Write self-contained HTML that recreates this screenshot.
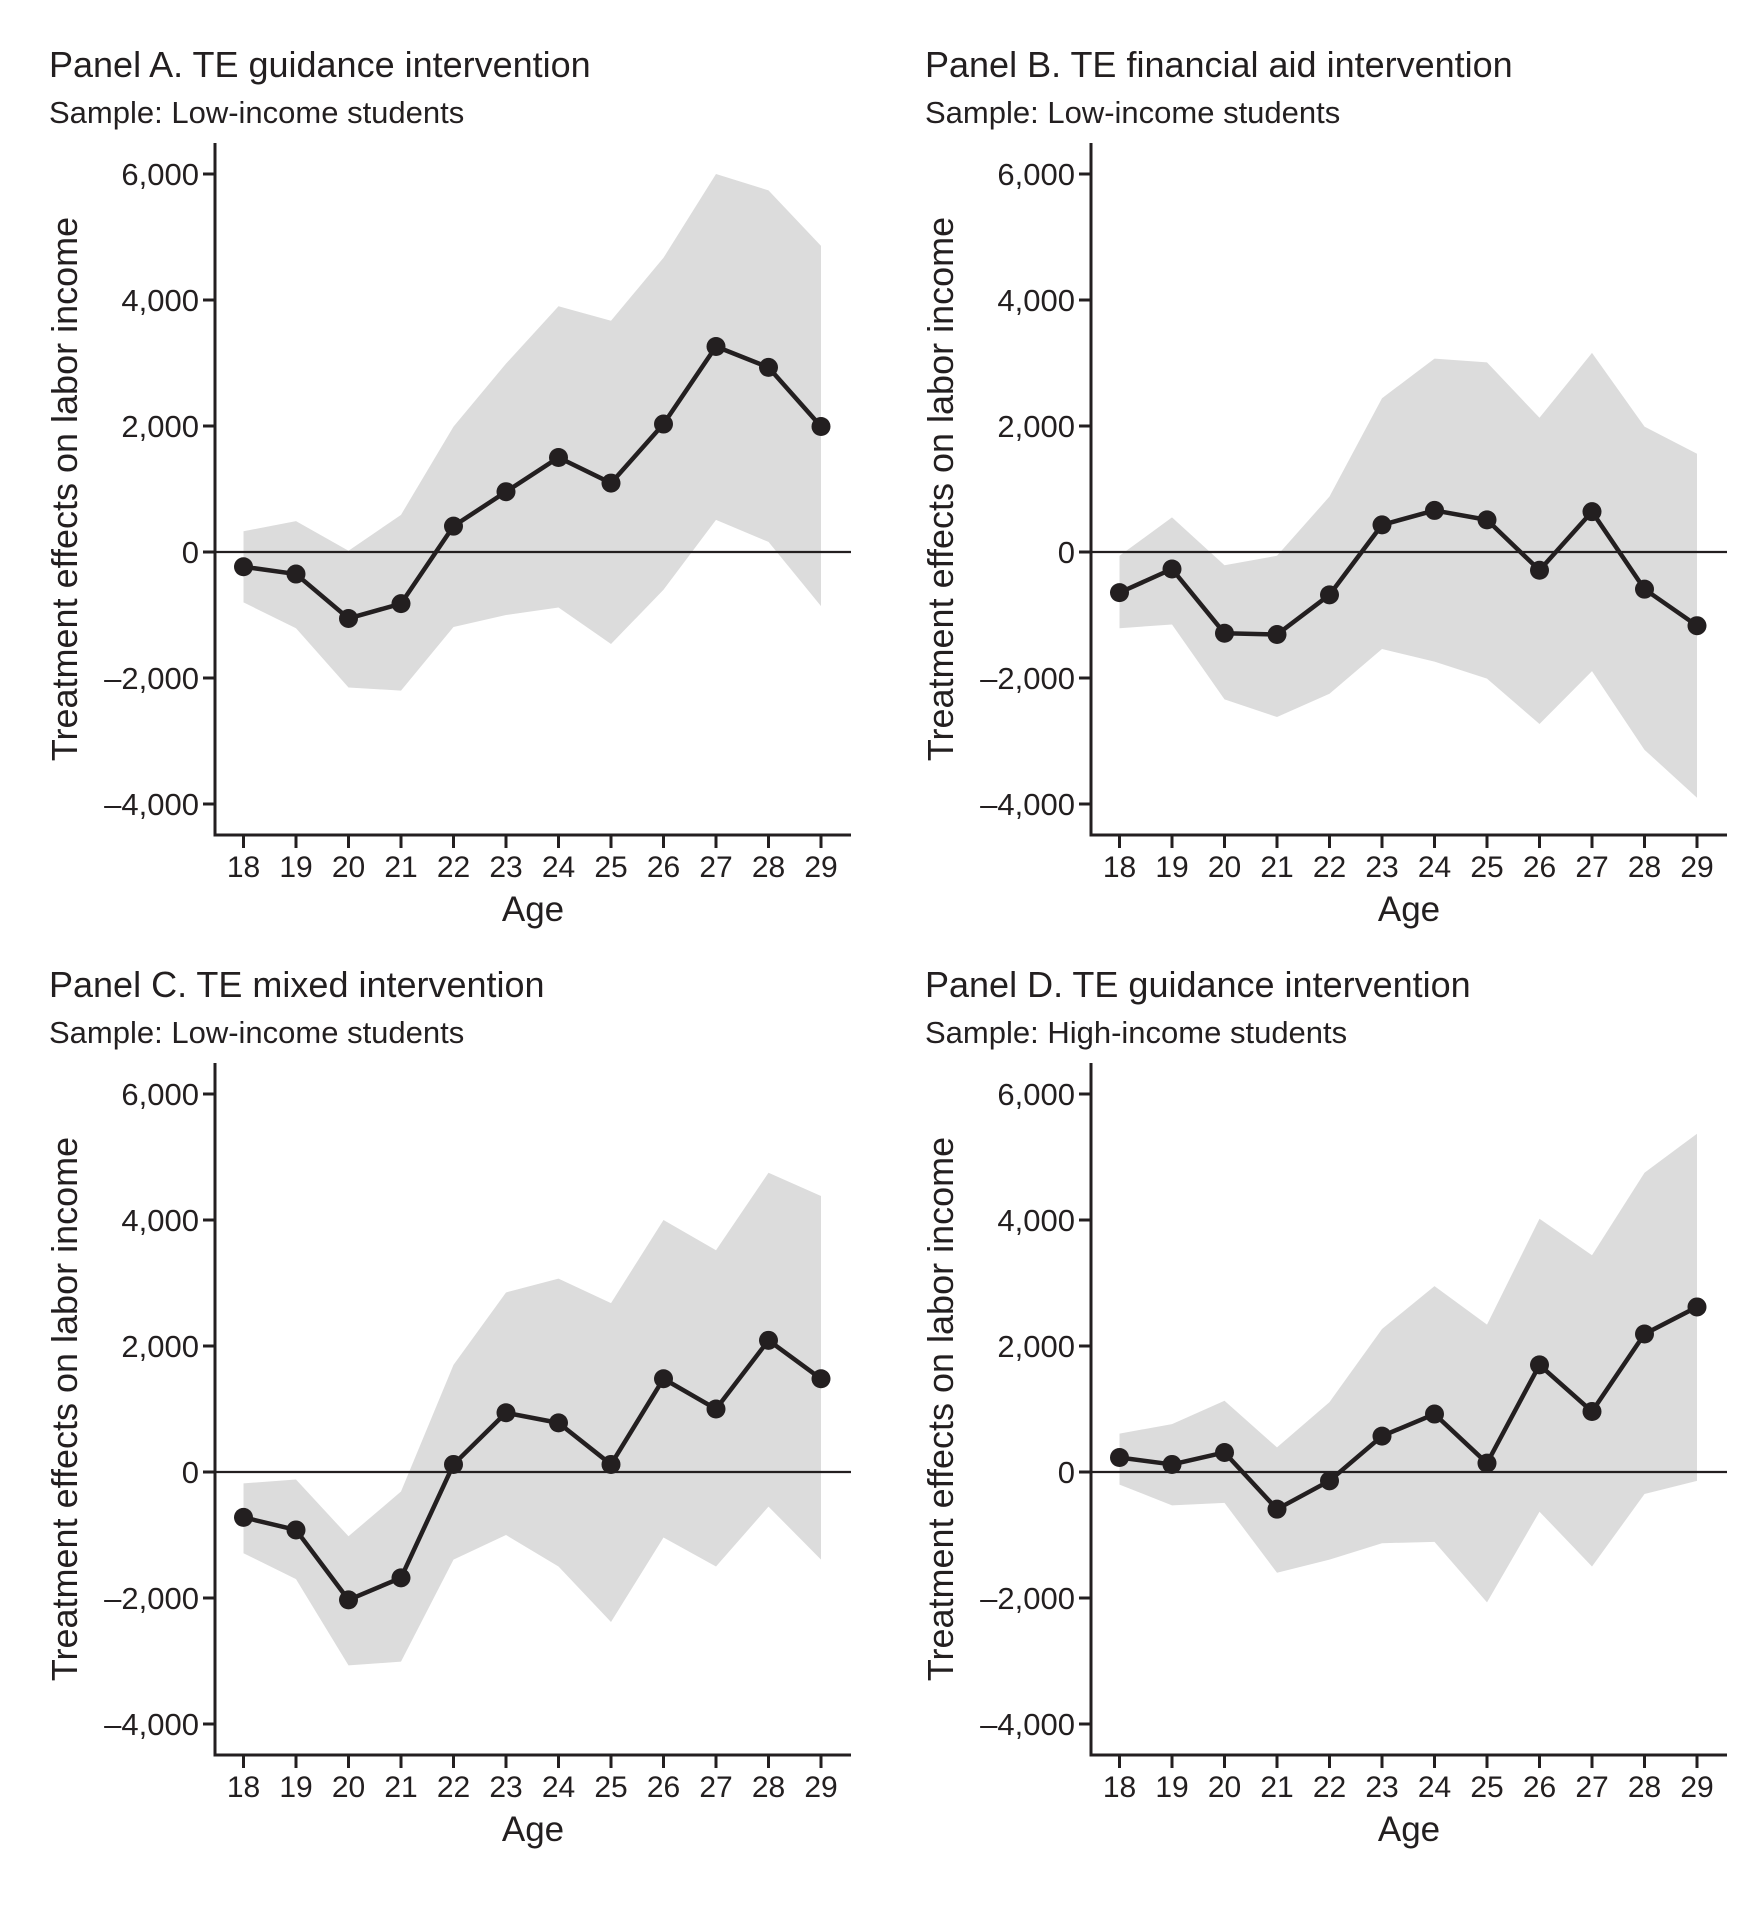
<!DOCTYPE html>
<html><head><meta charset="utf-8"><style>
body{margin:0;background:#fff}
svg{display:block}
text{font-family:"Liberation Sans",Arial,sans-serif;fill:#231f20}
</style></head><body>
<svg id="s" width="1754" height="1918" xmlns="http://www.w3.org/2000/svg"></svg>
<script>
const P=[
{t:"Panel A. TE guidance intervention",s:"Sample: Low-income students",ox:0,oy:0,
p:[-234,-350,-1055,-820,410,957,1500,1094,2031,3262,2930,1992],
u:[330,490,20,590,1990,2990,3900,3670,4670,6000,5740,4860],
l:[-800,-1210,-2150,-2200,-1190,-1000,-880,-1460,-600,510,160,-860]},
{t:"Panel B. TE financial aid intervention",s:"Sample: Low-income students",ox:876,oy:0,
p:[-645,-270,-1290,-1310,-680,430,660,510,-290,640,-590,-1170],
u:[-60,550,-210,-60,880,2440,3070,3010,2130,3160,1990,1560],
l:[-1210,-1150,-2340,-2620,-2250,-1540,-1740,-2010,-2730,-1890,-3140,-3900]},
{t:"Panel C. TE mixed intervention",s:"Sample: Low-income students",ox:0,oy:920,
p:[-720,-920,-2030,-1680,120,940,780,120,1480,1000,2090,1480],
u:[-180,-120,-1020,-310,1700,2850,3070,2680,4000,3520,4750,4380],
l:[-1290,-1700,-3070,-3010,-1390,-1000,-1500,-2380,-1040,-1500,-550,-1390]},
{t:"Panel D. TE guidance intervention",s:"Sample: High-income students",ox:876,oy:920,
p:[230,120,310,-590,-140,570,920,140,1700,960,2190,2620],
u:[610,760,1130,390,1110,2270,2950,2340,4020,3440,4750,5370],
l:[-200,-530,-490,-1600,-1390,-1130,-1110,-2070,-630,-1500,-350,-140]}];
let h="";
const X=i=>243.5+52.5*i, Y=v=>552-0.063*v;
for(const q of P){
 h+=`<g transform="translate(${q.ox},${q.oy})">`;
 h+=`<text x="49" y="77" font-size="36">${q.t}</text>`;
 h+=`<text x="49" y="123" font-size="31">${q.s}</text>`;
 let pts=q.u.map((v,i)=>X(i)+","+Y(v)).concat(q.l.map((v,i)=>X(i)+","+Y(v)).reverse());
 h+=`<polygon points="${pts.join(" ")}" fill="#dcdcdc"/>`;
 h+=`<line x1="215" y1="552" x2="851" y2="552" stroke="#231f20" stroke-width="2.2"/>`;
 h+=`<polyline points="${q.p.map((v,i)=>X(i)+","+Y(v)).join(" ")}" fill="none" stroke="#231f20" stroke-width="4.5" stroke-linejoin="round"/>`;
 q.p.forEach((v,i)=>h+=`<circle cx="${X(i)}" cy="${Y(v)}" r="9.5" fill="#231f20"/>`);
 h+=`<line x1="215" y1="143" x2="215" y2="836.5" stroke="#231f20" stroke-width="3"/>`;
 h+=`<line x1="213.5" y1="835" x2="851" y2="835" stroke="#231f20" stroke-width="3"/>`;
 for(const v of [6000,4000,2000,0,-2000,-4000]){
  const y=Y(v);
  h+=`<line x1="203" y1="${y}" x2="215" y2="${y}" stroke="#231f20" stroke-width="3"/>`;
  const lab=v<0?"\u2013"+(-v).toLocaleString("en-US"):v.toLocaleString("en-US");
  h+=`<text x="199" y="${y+11}" font-size="31" text-anchor="end">${lab}</text>`;
 }
 for(let i=0;i<12;i++){
  h+=`<line x1="${X(i)}" y1="835" x2="${X(i)}" y2="848" stroke="#231f20" stroke-width="3"/>`;
  h+=`<text x="${X(i)}" y="877" font-size="30" text-anchor="middle">${18+i}</text>`;
 }
 h+=`<text x="533" y="921" font-size="35" text-anchor="middle">Age</text>`;
 h+=`<text transform="translate(77,489) rotate(-90)" font-size="36" text-anchor="middle">Treatment effects on labor income</text>`;
 h+=`</g>`;
}
document.getElementById("s").innerHTML=h;
</script>
</body></html>
